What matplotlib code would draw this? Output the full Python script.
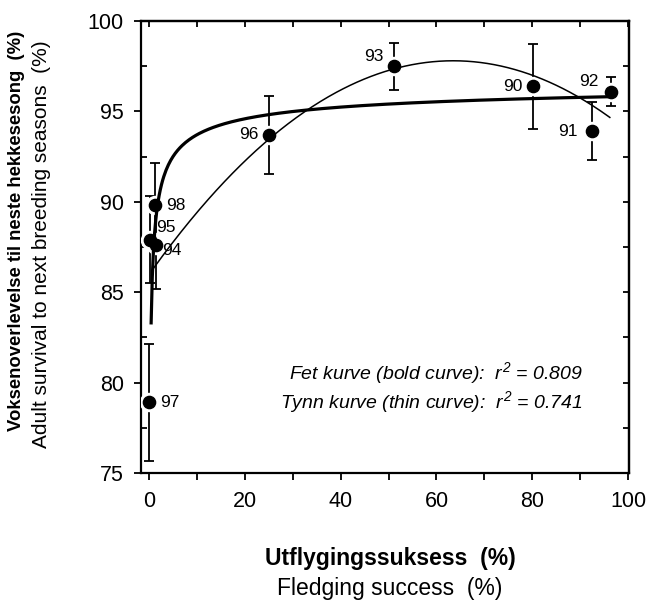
import matplotlib
matplotlib.use('Agg')
import matplotlib.pyplot as plt
import numpy as np
from matplotlib.ticker import MultipleLocator

plt.rcParams['font.family'] = ['Liberation Sans', 'DejaVu Sans']
plt.rcParams['mathtext.fontset'] = 'custom'
plt.rcParams['mathtext.it'] = 'Liberation Sans:italic'
plt.rcParams['mathtext.rm'] = 'Liberation Sans:italic'

# breeding season, fledging success (%) and adult survival (%) +- error
seasons = ['97', '95', '98', '94', '96', '93', '90', '91', '92']
fledging = [0.0, 0.1, 1.2, 1.5, 25.1, 51.2, 80.2, 92.4, 96.4]
survival = [78.9, 87.9, 89.8, 87.6, 93.7, 97.5, 96.4, 93.9, 96.1]
survival_err = [3.25, 2.4, 2.35, 2.4, 2.15, 1.3, 2.35, 1.6, 0.8]

# bold curve: y = a - b * x**(-p)
bold_a, bold_b, bold_p = 97.0, 9.27, 0.45
bold_x0, bold_x1 = 0.42, 96.2
# thin curve: y = top - k * (x - peak)**2
thin_top, thin_k, thin_peak = 97.8, 0.00293, 63.5
thin_x0, thin_x1 = 0.9, 96.2
r2_bold = 0.809
r2_thin = 0.741

# label placement (offset in points, alignment)
label_pos = {
    '97': (8, 0, 'left'), '95': (5, 9, 'left'), '94': (4, -4, 'left'),
    '98': (8, 0, 'left'), '96': (-8, 0, 'right'), '93': (-8, 7, 'right'),
    '90': (-8, 0, 'right'), '91': (-10, 0, 'right'), '92': (-9, 7, 'right'),
}

W, H = 647, 602
fig = plt.figure(figsize=(W / 100, H / 100), dpi=100)
ax = fig.add_axes([140.5 / W, 1 - 473 / H, 488 / W, 452 / H])

ax.errorbar(fledging, survival, yerr=survival_err, fmt='none', ecolor='black',
            elinewidth=1.3, capsize=3.5, capthick=1.3, zorder=2)
ax.plot(fledging, survival, 'o', ms=13, color='white', zorder=3)
ax.plot(fledging, survival, 'o', ms=8.8, color='black', zorder=4)

xb = np.linspace(bold_x0, bold_x1, 400)
ax.plot(xb, bold_a - bold_b * xb ** (-bold_p), color='black', lw=2.3, zorder=5)
xt = np.linspace(thin_x0, thin_x1, 400)
ax.plot(xt, thin_top - thin_k * (xt - thin_peak) ** 2, color='black', lw=1.1, zorder=5)

for s, x, y in zip(seasons, fledging, survival):
    dx, dy, ha = label_pos[s]
    ax.annotate(s, (x, y), xytext=(dx, dy), textcoords='offset points',
                ha=ha, va='center', fontsize=12.5)

ax.text(90.6, 80.55, 'Fet kurve (bold curve):  $r^2$ = %.3f' % r2_bold,
        ha='right', va='center', style='italic', fontsize=14)
ax.text(90.6, 78.9, 'Tynn kurve (thin curve):  $r^2$ = %.3f' % r2_thin,
        ha='right', va='center', style='italic', fontsize=14)

ax.set_xlim(-1.8, 100.1)
ax.set_ylim(75, 100)
ax.xaxis.set_major_locator(MultipleLocator(20))
ax.xaxis.set_minor_locator(MultipleLocator(10))
ax.yaxis.set_major_locator(MultipleLocator(5))
ax.yaxis.set_minor_locator(MultipleLocator(2.5))
ax.tick_params(axis='x', which='both', direction='out', length=5, width=1.3,
               top=False, pad=8, labelsize=15.5)
ax.tick_params(axis='y', which='major', direction='out', length=5, width=1.3,
               right=False, pad=7, labelsize=15.5)
ax.tick_params(axis='y', which='minor', direction='in', length=4, width=1.3, right=False)
for sp in ax.spines.values():
    sp.set_linewidth(1.6)

top = ax.secondary_xaxis('top')
top.set_xticks(np.arange(0, 101, 10))
top.tick_params(direction='in', length=4, width=1.3, labeltop=False)
top.spines['top'].set_linewidth(1.6)
right = ax.secondary_yaxis('right')
right.set_yticks(np.arange(75, 100.1, 2.5))
right.tick_params(direction='in', length=4, width=1.3, labelright=False)
right.spines['right'].set_linewidth(1.6)

# axis titles, Norwegian (bold) over English
fig.text(17 / W, 1 - 231 / H, 'Voksenoverlevelse til neste hekkesesong  (%)',
         rotation=90, ha='center', va='center', fontsize=13.3, fontweight='bold')
fig.text(42 / W, 1 - 244 / H, 'Adult survival to next breeding seasons  (%)',
         rotation=90, ha='center', va='center', fontsize=15)
fig.text(390 / W, 1 - 558 / H, 'Utflygingssuksess  (%)',
         ha='center', va='center', fontsize=16.5, fontweight='bold')
fig.text(390 / W, 1 - 589 / H, 'Fledging success  (%)',
         ha='center', va='center', fontsize=16.5)

fig.savefig('out.png', dpi=100)
